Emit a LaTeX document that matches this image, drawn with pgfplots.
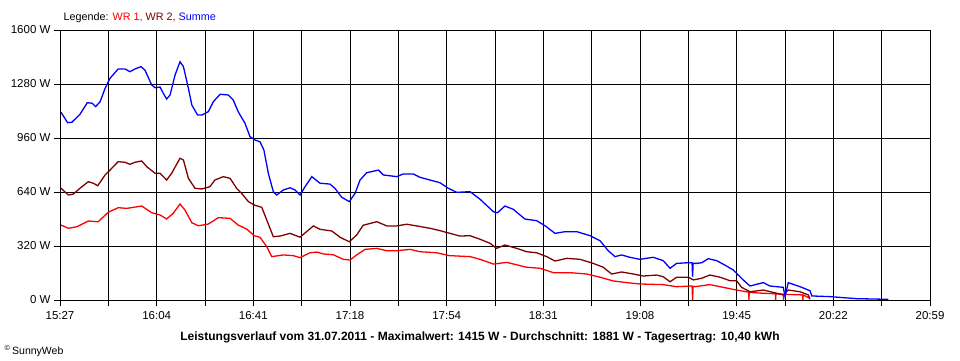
\documentclass[border=0pt]{standalone}
\usepackage{pgfplots}
\pgfplotsset{compat=1.18}
\usepackage{fontspec}
\setmainfont{Liberation Sans}
\definecolor{wra}{RGB}{255,0,0}
\definecolor{wrb}{RGB}{128,0,0}
\definecolor{summe}{RGB}{0,0,255}
\begin{document}
\begin{tikzpicture}
\path[use as bounding box] (0pt,0pt) rectangle (960pt,360pt);
\begin{axis}[at={(60pt,60pt)}, anchor=south west, scale only axis,
  width=870pt, height=270pt,
  xmin=0, xmax=332, ymin=0, ymax=1600,
  xtick={0,18.444,36.889,55.333,73.778,92.222,110.667,129.111,147.556,166,184.444,202.889,221.333,239.778,258.222,276.667,295.111,313.556,332},
  xticklabels={15:27,,16:04,,16:41,,17:18,,17:54,,18:31,,19:08,,19:45,,20:22,,20:59},
  ytick={0,320,640,960,1280,1600},
  yticklabels={0 W,320 W,640 W,960 W,1280 W,1600 W},
  grid=major, major grid style={black, line width=0.8pt},
  axis line style={black, line width=0.8pt},
  tick style={black, line width=0.8pt},
  tick align=outside, major tick length=6pt,
  xtick pos=bottom, ytick pos=left,
  ticklabel style={font=\fontsize{11.5}{13}\selectfont},
  xticklabel style={yshift=-2pt},
  yticklabel style={xshift=0pt},
  every axis plot/.append style={line width=1.3pt, sharp plot},
]
\addplot[wra] table {
0.4 444
3.2 425
6.4 434
10.8 468
14.6 464
18.4 520
22.2 547
25.5 543
31.2 557
35.0 517
38.2 504
40.7 480
43.2 514
45.8 569
47.7 533
50.3 458
52.8 440
56.6 450
60.4 488
64.9 484
68.0 444
71.2 421
74.1 381
76.3 372
78.9 316
80.8 257
85.2 267
89.0 263
91.6 251
95.4 280
98.0 284
100.5 273
104.3 268
108.1 241
110.7 237
113.2 267
116.4 300
120.9 306
124.7 292
128.5 292
133.6 300
137.4 286
143.7 280
148.6 263
156.5 257
160.3 241
165.4 213
170.5 223
178.1 194
183.2 188
188.3 162
194.6 162
201.0 154
206.1 135
211.1 113
216.3 103
221.3 95
230.2 91
235.3 79
241.2 83
241.4 0
241.6 81
242.3 79
248.0 91
253.1 75
258.2 59
262.0 49
262.8 45
262.9 0
263.0 45
268.4 40
273.0 37
273.1 0
273.2 37
276.0 34
276.1 0
276.2 34
283.4 30
283.5 0
283.6 30
286.2 10
};
\addplot[wrb] table {
0.4 662
3.2 622
5.1 628
7.6 662
10.8 701
12.7 692
14.4 677
17.2 741
19.1 770
22.2 820
24.8 816
26.7 804
28.6 816
31.2 824
33.1 790
36.3 751
38.2 751
40.7 711
42.6 751
45.8 840
47.1 830
49.0 721
51.5 662
54.1 658
57.2 671
59.1 711
62.3 731
64.9 721
67.4 662
69.3 632
71.9 583
74.1 563
77.0 549
78.9 474
81.4 375
84.0 379
87.8 395
91.6 372
94.1 405
96.7 439
99.2 419
103.7 409
106.9 372
110.4 345
113.2 385
115.7 443
120.9 464
124.7 439
128.5 439
132.3 449
136.1 439
141.2 425
145.0 411
148.8 395
152.6 379
156.5 381
160.3 360
164.1 336
166.6 306
169.8 326
174.3 306
178.1 286
181.9 280
185.7 257
188.9 231
193.4 247
198.4 241
203.5 217
207.3 194
210.5 154
214.3 166
218.8 154
222.6 142
227.7 148
230.2 138
232.8 108
235.3 135
239.8 135
241.7 119
244.9 129
248.0 148
251.9 135
255.7 114
258.2 114
260.1 75
263.3 49
268.4 59
273.5 40
276.0 30
277.9 59
282.4 49
285.6 30
286.2 4
};
\addplot[summe] table {
0.4 1112
2.9 1051
4.5 1053
7.6 1100
10.4 1169
12.3 1166
13.6 1146
15.3 1175
17.2 1254
19.1 1314
22.2 1369
24.8 1369
26.7 1353
28.6 1369
30.9 1383
32.4 1363
35.0 1274
36.3 1258
38.2 1262
39.4 1225
40.7 1191
42.0 1215
43.9 1333
45.8 1412
47.1 1383
49.0 1254
50.3 1156
52.5 1096
54.1 1096
56.6 1116
58.5 1175
61.1 1219
64.2 1215
66.1 1185
68.0 1116
70.6 1047
72.5 968
74.4 948
76.3 938
77.8 889
79.5 751
81.4 642
82.7 622
85.2 652
87.8 665
89.7 652
91.6 622
93.5 671
96.1 731
99.2 692
103.0 687
104.9 662
107.5 609
110.4 583
112.6 632
114.5 711
117.0 754
121.5 770
123.4 741
128.5 731
131.0 747
134.8 747
137.4 727
141.2 711
145.0 695
148.2 662
151.4 638
156.5 642
160.3 597
165.4 523
166.9 517
169.8 557
173.0 537
177.4 480
181.9 470
185.1 440
188.9 395
192.7 405
197.2 405
202.3 381
206.1 351
209.2 292
211.8 257
214.3 267
217.5 253
221.3 241
226.4 253
230.2 233
232.8 188
235.3 217
239.8 221
241.2 221
241.4 138
241.6 217
243.0 217
244.9 221
247.4 245
250.6 233
254.4 201
256.9 178
258.8 148
260.7 119
263.3 83
268.4 103
270.9 83
276.0 75
276.7 20
277.9 103
282.4 79
286.2 55
286.9 24
293.8 20
304.0 8
316.1 4
};
\end{axis}
\node[anchor=west, font=\fontsize{10.8}{13}\selectfont] at (60pt,342.5pt)
  {Legende: \textcolor{wra}{WR 1,} \textcolor{wrb}{WR 2,} \textcolor{summe}{Summe}};
\node[font=\bfseries\fontsize{12}{14}\selectfont] at (480pt,22.5pt)
  {Leistungsverlauf vom 31.07.2011 - Maximalwert: 1415 W - Durchschnitt: 1881 W - Tagesertrag: 10,40 kWh};
\node[anchor=west, font=\fontsize{10.5}{12}\selectfont] at (1pt,9pt)
  {\textsuperscript{\textcopyright}\,SunnyWeb};
\end{tikzpicture}
\end{document}
